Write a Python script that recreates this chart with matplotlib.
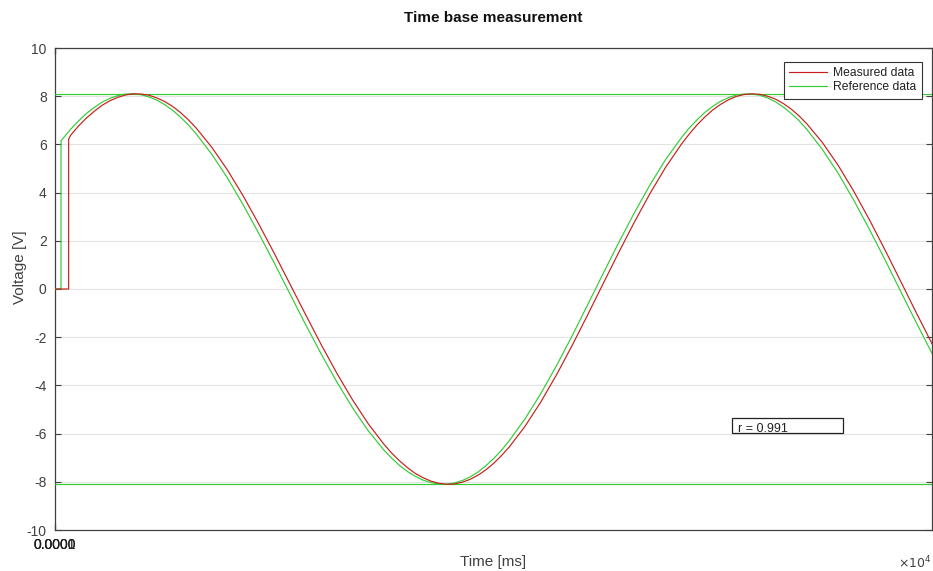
import matplotlib
matplotlib.use("Agg")
import matplotlib.pyplot as plt
from matplotlib.patches import Rectangle

plt.rcParams['font.family'] = ['Liberation Sans', 'DejaVu Sans']
plt.rcParams['axes.unicode_minus'] = False

# ---- data (time in ms, voltage in V) ----
ref_time = [0, 96, 96, 250, 375, 500, 625, 750, 875, 1000, 1125, 1250, 1375, 1500, 1625,
            1750, 1875, 2000, 2125, 2250, 2500, 2750, 3000, 3250, 3500, 3750, 4000, 4250,
            4500, 4750, 5000, 5250, 5375, 5500, 5625, 5750, 5875, 6000, 6125, 6250, 6375,
            6500, 6625, 6750, 6875, 7000, 7125, 7250, 7500, 7750, 8000, 8250, 8500, 8750,
            9000, 9250, 9500, 9750, 10000, 10125, 10250, 10375, 10500, 10625, 10750, 10875,
            11000, 11125, 11250, 11375, 11500, 11625, 11750, 11875, 12000, 12250, 12500,
            12750, 13000, 13250, 13500, 13750, 14000]
ref_volt = [0, 0, 6.15, 6.63, 6.97, 7.28, 7.53, 7.75, 7.91, 8.02, 8.09, 8.10, 8.06, 7.97, 7.84,
            7.65, 7.42, 7.14, 6.82, 6.45, 5.60, 4.62, 3.51, 2.32, 1.08, -0.20, -1.47, -2.70,
            -3.86, -4.93, -5.88, -6.68, -7.02, -7.32, -7.57, -7.77, -7.93, -8.03, -8.09, -8.10, -8.05,
            -7.95, -7.80, -7.60, -7.34, -7.04, -6.70, -6.30, -5.40, -4.36, -3.21, -1.97, -0.67, 0.64,
            1.93, 3.17, 4.33, 5.38, 6.28, 6.68, 7.02, 7.33, 7.58, 7.79, 7.94, 8.05,
            8.09, 8.09, 8.04, 7.93, 7.77, 7.55, 7.29, 6.99, 6.63, 5.79, 4.81,
            3.69, 2.48, 1.21, -0.10, -1.40, -2.67]

meas_time = [0, 218, 218, 250, 375, 500, 625, 750, 875, 1000, 1125, 1250, 1375, 1500, 1625,
             1750, 1875, 2000, 2125, 2250, 2500, 2750, 3000, 3250, 3500, 3750, 4000, 4250,
             4500, 4750, 5000, 5250, 5375, 5500, 5625, 5750, 5875, 6000, 6125, 6250, 6375,
             6500, 6625, 6750, 6875, 7000, 7125, 7250, 7500, 7750, 8000, 8250, 8500, 8750,
             9000, 9250, 9500, 9750, 10000, 10125, 10250, 10375, 10500, 10625, 10750, 10875,
             11000, 11125, 11250, 11375, 11500, 11625, 11750, 11875, 12000, 12250, 12500,
             12750, 13000, 13250, 13500, 13750, 14000]
meas_volt = [0, 0, 6.22, 6.38, 6.76, 7.09, 7.37, 7.62, 7.81, 7.95, 8.05, 8.10, 8.09, 8.04, 7.93,
             7.78, 7.58, 7.33, 7.03, 6.69, 5.89, 4.95, 3.88, 2.71, 1.48, 0.21, -1.06, -2.31,
             -3.50, -4.60, -5.59, -6.44, -6.81, -7.13, -7.41, -7.65, -7.83, -7.97, -8.06, -8.10, -8.09,
             -8.02, -7.90, -7.73, -7.51, -7.24, -6.92, -6.56, -5.71, -4.71, -3.59, -2.37, -1.09, 0.22,
             1.52, 2.78, 3.97, 5.06, 6.01, 6.43, 6.81, 7.14, 7.43, 7.66, 7.85, 7.99,
             8.07, 8.10, 8.08, 8.00, 7.88, 7.70, 7.47, 7.19, 6.86, 6.08, 5.14,
             4.06, 2.88, 1.62, 0.32, -0.99, -2.27]

ref_peak = 8.1
x_ticks = [0, 0.5, 1]
x_tick_labels = ['0.0001', '0.0000', '0.0000']
y_ticks = [-10, -8, -6, -4, -2, 0, 2, 4, 6, 8, 10]
r_value = 0.991

# ---- figure ----
W, H = 933, 571
fig = plt.figure(figsize=(W / 100, H / 100), dpi=100)
ax = fig.add_axes([55 / W, 1 - 530 / H, 877 / W, 482 / H])

grey = '#404040'
red = '#c81e1e'
green = '#33cc33'

ax.plot(ref_time, ref_volt, color=green, lw=0.85, label='Reference data', zorder=3)
ax.axhline(ref_peak, color=green, lw=0.85, zorder=3)
ax.axhline(-ref_peak, color=green, lw=0.85, zorder=3)
ax.plot(meas_time, meas_volt, color=red, lw=0.85, label='Measured data', zorder=4)

ax.set_xlim(0, 14000)
ax.set_ylim(-10, 10)
ax.set_yticks(y_ticks)
ax.set_xticks(x_ticks)
ax.set_xticklabels(x_tick_labels)
ax.yaxis.grid(True, color='#e3e3e3', lw=0.8)
ax.set_axisbelow(True)

for s in ax.spines.values():
    s.set_color(grey)
    s.set_linewidth(0.9)
ax.tick_params(axis='both', direction='in', length=4, width=0.8, color=grey,
               labelcolor=grey, labelsize=10, right=True, top=True)
ax.tick_params(axis='y', pad=6)
ax.tick_params(axis='x', pad=6, labelcolor='#202020')

ax.set_title('Time base measurement', fontsize=11, fontweight='bold', pad=19, color='#111111')
ax.set_xlabel('Time [ms]', fontsize=11, color=grey)
ax.xaxis.set_label_coords(0.5, -0.052)
ax.set_ylabel('Voltage [V]', fontsize=11, color=grey)
ax.yaxis.set_label_coords(-0.032, 0.545)

handles, labels = ax.get_legend_handles_labels()
leg = ax.legend(handles[::-1], labels[::-1], loc='upper right', fontsize=8.7,
                frameon=True, fancybox=False, framealpha=1, edgecolor='#333333',
                borderpad=0.45, labelspacing=0.15, handlelength=3.15, handletextpad=0.5,
                borderaxespad=0.0, bbox_to_anchor=(922 / W, 1 - 62 / H),
                bbox_transform=fig.transFigure)
leg.get_frame().set_linewidth(0.8)
for t in leg.get_texts():
    t.set_color('#222222')

# r annotation box
fig.patches.append(Rectangle((732 / W, 1 - 433 / H), 111 / W, 15 / H,
                             transform=fig.transFigure, fill=True, facecolor='white',
                             edgecolor='#222222', lw=0.9, zorder=10))
fig.text(738 / W, 1 - 429.5 / H, f'r = {r_value}', fontsize=9, color='#222222',
         ha='left', va='center', zorder=11)

# exponent label
fig.text(915 / W, 1 - 563 / H, r'$\times 10^4$', fontsize=9, color=grey,
         ha='center', va='center')

fig.savefig('out.png', dpi=100)
